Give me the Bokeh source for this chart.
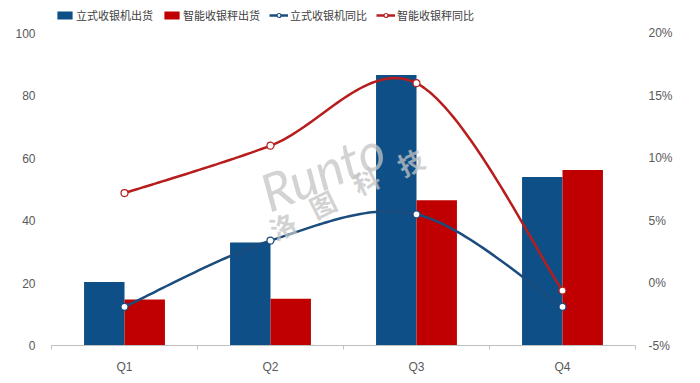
import numpy as np
from bokeh.plotting import figure
from bokeh.models import (Range1d, LinearAxis, FixedTicker, PrintfTickFormatter,
                          CustomJSTickFormatter, Legend, LegendItem, Label)
from bokeh.embed import file_html
from bokeh.resources import INLINE

# ---- data ----
categories = ["Q1", "Q2", "Q3", "Q4"]
stand_pos_units = [20.3, 33.0, 86.6, 54.0]      # 立式收银机出货
smart_scale_units = [14.7, 15.0, 46.5, 56.2]    # 智能收银秤出货
stand_pos_yoy = [-1.9, 3.4, 5.5, -1.9]          # 立式收银机同比 (%)
smart_scale_yoy = [7.2, 11.0, 16.0, -0.6]       # 智能收银秤同比 (%)
left_ticks = [0, 20, 40, 60, 80, 100]
right_ticks = [-5, 0, 5, 10, 15, 20]
series_names = ["立式收银机出货", "智能收银秤出货", "立式收银机同比", "智能收银秤同比"]

BLUE = "#0d4f86"
RED = "#c00000"
BLUE_LINE = "#1a4c7e"
RED_LINE = "#b81d1d"
TICK_COLOR = "#595959"

centers = np.arange(len(categories)) + 0.5
bar_w = 0.277

# layout (pixels)
W, H = 692, 376
LEFT, RIGHT, TOP, BOTTOM = 51, 57, 4, 28
AXIS_TOP = 33           # where the 100 / 20% gridline sits
plot_h = H - BOTTOM - AXIS_TOP
extra = (AXIS_TOP - TOP) / plot_h   # room above the axes for the legend


def smooth(xs, ys, n=40):
    """Excel-like smoothed curve (cubic Bezier, Catmull-Rom control points)."""
    xs = np.asarray(xs, float)
    ys = np.asarray(ys, float)
    px = np.concatenate([[xs[0]], xs, [xs[-1]]])
    py = np.concatenate([[ys[0]], ys, [ys[-1]]])
    out_x, out_y = [], []
    t = np.linspace(0, 1, n)
    for i in range(1, len(px) - 2):
        x0, x1, x2, x3 = px[i - 1], px[i], px[i + 1], px[i + 2]
        y0, y1, y2, y3 = py[i - 1], py[i], py[i + 1], py[i + 2]
        c1x, c1y = x1 + (x2 - x0) / 6, y1 + (y2 - y0) / 6
        c2x, c2y = x2 - (x3 - x1) / 6, y2 - (y3 - y1) / 6
        bx = (1 - t) ** 3 * x1 + 3 * (1 - t) ** 2 * t * c1x + 3 * (1 - t) * t ** 2 * c2x + t ** 3 * x2
        by = (1 - t) ** 3 * y1 + 3 * (1 - t) ** 2 * t * c1y + 3 * (1 - t) * t ** 2 * c2y + t ** 3 * y2
        out_x.extend(bx.tolist())
        out_y.extend(by.tolist())
    return out_x, out_y


lmin, lmax = left_ticks[0], left_ticks[-1]
rmin, rmax = right_ticks[0], right_ticks[-1]
p = figure(width=W, height=H, x_range=Range1d(0, 4),
           y_range=Range1d(lmin, lmax + (lmax - lmin) * extra),
           output_backend="svg", toolbar_location=None,
           min_border_left=LEFT, min_border_right=RIGHT, min_border_top=TOP,
           min_border_bottom=BOTTOM)
p.extra_y_ranges = {"pct": Range1d(rmin, rmax + (rmax - rmin) * extra)}
p.xgrid.visible = False
p.ygrid.visible = False
p.outline_line_color = None
p.background_fill_color = "white"
p.border_fill_color = "white"

# x axis
xa = p.xaxis[0]
xa.ticker = FixedTicker(ticks=centers.tolist(), minor_ticks=list(range(len(categories) + 1)))
xa.formatter = CustomJSTickFormatter(args=dict(cats=categories),
                                     code="return cats[Math.floor(tick)] || '';")
xa.axis_line_color = "#bfbfbf"
xa.axis_line_width = 1
xa.major_tick_line_color = None
xa.major_tick_out = 0
xa.major_tick_in = 0
xa.minor_tick_line_color = "#bfbfbf"
xa.minor_tick_out = 4
xa.minor_tick_in = 0
xa.major_label_standoff = 10
xa.major_label_text_font = "Liberation Sans"
xa.major_label_text_font_size = "12px"
xa.major_label_text_color = TICK_COLOR

# left axis
ya = p.yaxis[0]
ya.ticker = FixedTicker(ticks=left_ticks)
ya.axis_line_color = None
ya.major_tick_line_color = None
ya.minor_tick_line_color = None
ya.major_tick_out = 0
ya.major_label_standoff = 16
ya.major_label_text_font = "Liberation Sans"
ya.major_label_text_font_size = "12px"
ya.major_label_text_color = TICK_COLOR

# right axis
ra = LinearAxis(y_range_name="pct", ticker=FixedTicker(ticks=right_ticks),
                formatter=PrintfTickFormatter(format="%d%%"))
ra.axis_line_color = None
ra.major_tick_line_color = None
ra.minor_tick_line_color = None
ra.major_tick_out = 0
ra.major_label_standoff = 13
ra.major_label_text_font = "Liberation Sans"
ra.major_label_text_font_size = "12px"
ra.major_label_text_color = TICK_COLOR
p.add_layout(ra, "right")

# bars
r_b1 = p.vbar(x=(centers - bar_w / 2).tolist(), top=stand_pos_units, width=bar_w,
              fill_color=BLUE, line_color=None)
r_b2 = p.vbar(x=(centers + bar_w / 2).tolist(), top=smart_scale_units, width=bar_w,
              fill_color=RED, line_color=None)

# smoothed YoY lines
bx, by = smooth(centers, stand_pos_yoy)
r_l1 = p.line(bx, by, y_range_name="pct", line_color=BLUE_LINE, line_width=2.5)
r_s1 = p.scatter(centers.tolist(), stand_pos_yoy, y_range_name="pct", size=7,
                 fill_color="white", line_color=BLUE_LINE, line_width=1.2)
rx, ry = smooth(centers, smart_scale_yoy)
r_l2 = p.line(rx, ry, y_range_name="pct", line_color=RED_LINE, line_width=2.5)
r_s2 = p.scatter(centers.tolist(), smart_scale_yoy, y_range_name="pct", size=7,
                 fill_color="white", line_color=RED_LINE, line_width=1.2)

# watermark
p.add_layout(Label(x=1.445, y=48.4, text="Runto", angle=22, angle_units="deg",
                   text_font="Lato", text_font_style="italic", text_font_size="52px",
                   text_color="#c4c4c4", text_alpha=0.75, text_align="left",
                   text_baseline="alphabetic"))
for ch, cx, cy in zip("洛图科技", [1.582, 1.856, 2.151, 2.459], [38.5, 45.5, 52.9, 58.9]):
    p.add_layout(Label(x=cx, y=cy, text=ch, angle=26, angle_units="deg",
                       text_font="Noto Sans CJK SC", text_font_style="bold",
                       text_font_size="26px", text_color="#c4c4c4", text_alpha=0.75,
                       text_align="center", text_baseline="middle"))

legend = Legend(items=[
    LegendItem(label=series_names[0], renderers=[r_b1]),
    LegendItem(label=series_names[1], renderers=[r_b2]),
    LegendItem(label=series_names[2], renderers=[r_l1, r_s1]),
    LegendItem(label=series_names[3], renderers=[r_l2, r_s2]),
], orientation="horizontal", location=(4, H - BOTTOM - TOP - 4 - 18))
legend.border_line_color = None
legend.background_fill_alpha = 0
legend.label_text_font = "Noto Sans CJK SC"
legend.label_text_font_size = "11px"
legend.label_text_color = "#404040"
legend.glyph_width = 19
legend.glyph_height = 10
legend.label_height = 14
legend.label_standoff = 2
legend.spacing = 9
legend.padding = 2
legend.margin = 0
p.add_layout(legend)

open("out.html", "w").write(file_html(p, INLINE))
